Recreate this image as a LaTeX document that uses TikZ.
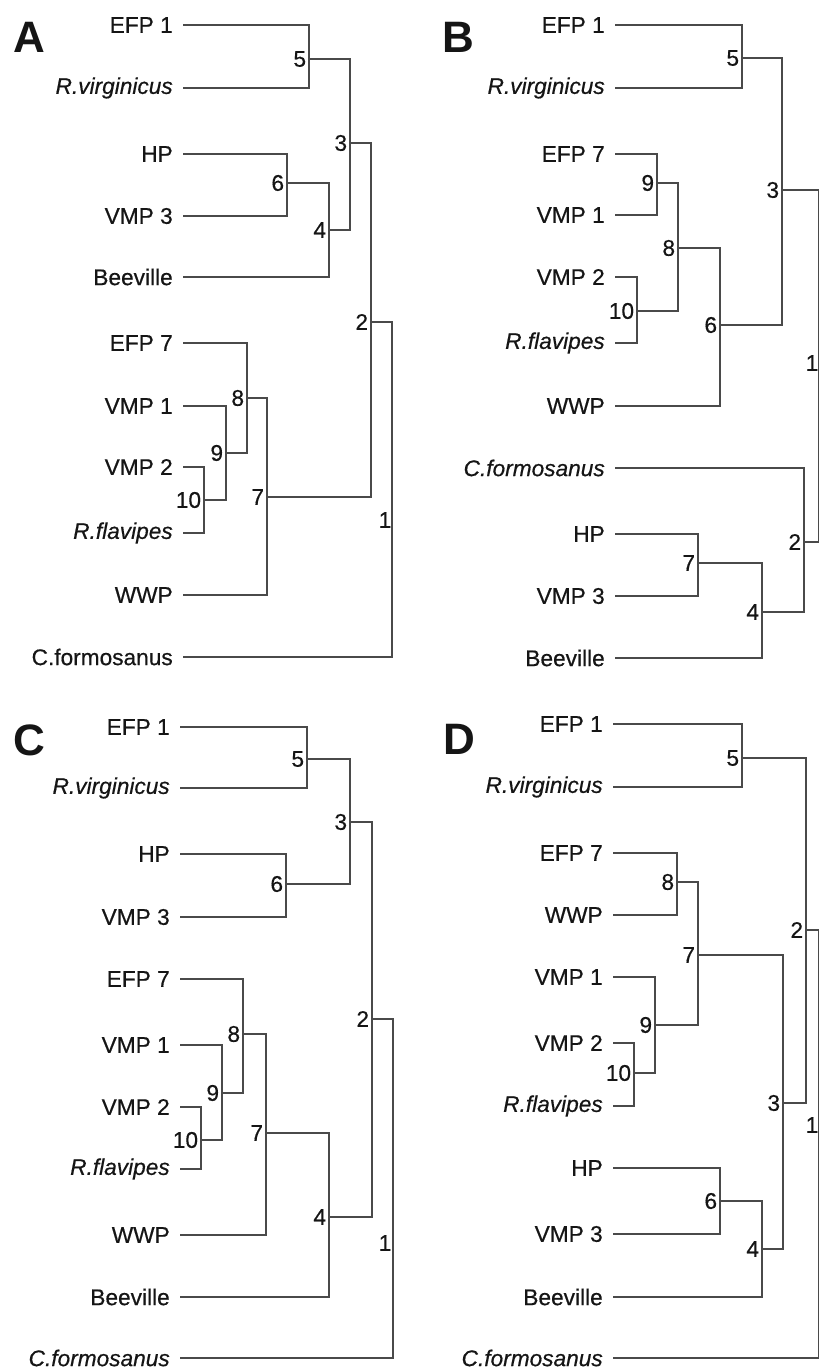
\documentclass[tikz,border=0pt]{standalone}
\usepackage{fontspec}
\setmainfont{Liberation Sans}[UprightFeatures={FakeBold=0.5}, ItalicFeatures={FakeBold=0.5}]
\usepackage{tikz}
\usetikzlibrary{calc}
\definecolor{ink}{HTML}{151515}
\definecolor{branchgray}{HTML}{4A4A4A}
\newcommand{\leaffont}{\fontsize{17}{19}\selectfont}
\tikzset{leaf/.style={anchor=east, inner xsep=7.5pt, inner ysep=1pt, text=ink, font=\leaffont}}
\tikzset{leafit/.style={leaf, font=\leaffont\itshape}}
\tikzset{num/.style={inner sep=2pt, text=ink, font=\leaffont}}
\tikzset{panel/.style={text=ink, font=\fontsize{33}{36}\selectfont\bfseries}}
\tikzset{branch/.style={draw=branchgray, line width=1.1pt}}

\begin{document}
\begin{tikzpicture}[x=0.75pt, y=-0.75pt]
\useasboundingbox (0,0) rectangle (819,1370);
\clip (0,0) rectangle (819,1370);

%panel A
\node (pA) at (29,37)[panel]{A};
\node (Aefp1) at (183,25)[leaf]{EFP 1};
\node (Arvir) at (183,88)[leafit]{R.virginicus};
\node (Ahp) at (183,154)[leaf]{HP};
\node (Avmp3) at (183,216)[leaf]{VMP 3};
\node (Abee) at (183,277)[leaf]{Beeville};
\node (Aefp7) at (183,343)[leaf]{EFP 7};
\node (Avmp1) at (183,406)[leaf]{VMP 1};
\node (Avmp2) at (183,467)[leaf]{VMP 2};
\node (Arfla) at (183,533)[leafit]{R.flavipes};
\node (Awwp) at (183,595)[leaf]{WWP};
\node (Acfor) at (183,657)[leaf]{C.formosanus};
\coordinate[label={[num]left:5}] (A5) at (309,59);
\coordinate[label={[num]left:6}] (A6) at (287,183);
\coordinate[label={[num]left:4}] (A4) at (329,230);
\coordinate[label={[num]left:3}] (A3) at (350,143);
\coordinate[label={[num]left:10}] (A10) at (204,500);
\coordinate[label={[num]left:9}] (A9) at (226,453);
\coordinate[label={[num]left:8}] (A8) at (247,398);
\coordinate[label={[num]left:7}] (A7) at (267,497);
\coordinate[label={[num]left:2}] (A2) at (371,322);
\coordinate (A1) at (392,489);
\node (A1lab) at (385,520)[num]{1};
\draw[branch] (Aefp1.east) -| (A5) |- (Arvir.east);
\draw[branch] (Ahp.east) -| (A6) |- (Avmp3.east);
\draw[branch] (A6) -| (A4) |- (Abee.east);
\draw[branch] (A5) -| (A3) |- (A4);
\draw[branch] (Avmp2.east) -| (A10) |- (Arfla.east);
\draw[branch] (Avmp1.east) -| (A9) |- (A10);
\draw[branch] (Aefp7.east) -| (A8) |- (A9);
\draw[branch] (A8) -| (A7) |- (Awwp.east);
\draw[branch] (A3) -| (A2) |- (A7);
\draw[branch] (A2) -| (A1) |- (Acfor.east);

%panel B
\node (pB) at (458,37)[panel]{B};
\node (Befp1) at (615,25)[leaf]{EFP 1};
\node (Brvir) at (615,88)[leafit]{R.virginicus};
\node (Befp7) at (615,154)[leaf]{EFP 7};
\node (Bvmp1) at (615,215)[leaf]{VMP 1};
\node (Bvmp2) at (615,277)[leaf]{VMP 2};
\node (Brfla) at (615,343)[leafit]{R.flavipes};
\node (Bwwp) at (615,406)[leaf]{WWP};
\node (Bcfor) at (615,468)[leafit]{C.formosanus};
\node (Bhp) at (615,534)[leaf]{HP};
\node (Bvmp3) at (615,596)[leaf]{VMP 3};
\node (Bbee) at (615,658)[leaf]{Beeville};
\coordinate[label={[num]left:5}] (B5) at (742,58);
\coordinate[label={[num]left:9}] (B9) at (657,183);
\coordinate[label={[num]left:10}] (B10) at (637,311);
\coordinate[label={[num]left:8}] (B8) at (678,248);
\coordinate[label={[num]left:6}] (B6) at (720,325);
\coordinate[label={[num]left:3}] (B3) at (782,190);
\coordinate[label={[num]left:7}] (B7) at (698,563);
\coordinate[label={[num]left:4}] (B4) at (762,612);
\coordinate[label={[num]left:2}] (B2) at (804,542);
\coordinate (B1) at (818.5,366);
\node (B1lab) at (812,363)[num]{1};
\draw[branch] (Befp1.east) -| (B5) |- (Brvir.east);
\draw[branch] (Befp7.east) -| (B9) |- (Bvmp1.east);
\draw[branch] (Bvmp2.east) -| (B10) |- (Brfla.east);
\draw[branch] (B9) -| (B8) |- (B10);
\draw[branch] (B8) -| (B6) |- (Bwwp.east);
\draw[branch] (B5) -| (B3) |- (B6);
\draw[branch] (Bhp.east) -| (B7) |- (Bvmp3.east);
\draw[branch] (B7) -| (B4) |- (Bbee.east);
\draw[branch] (Bcfor.east) -| (B2) |- (B4);
\draw[branch] (B3) -| (B1) |- (B2);

%panel C
\node (pC) at (29,740)[panel]{C};
\node (Cefp1) at (180,727)[leaf]{EFP 1};
\node (Crvir) at (180,788)[leafit]{R.virginicus};
\node (Chp) at (180,854)[leaf]{HP};
\node (Cvmp3) at (180,917)[leaf]{VMP 3};
\node (Cefp7) at (180,979)[leaf]{EFP 7};
\node (Cvmp1) at (180,1045)[leaf]{VMP 1};
\node (Cvmp2) at (180,1107)[leaf]{VMP 2};
\node (Crfla) at (180,1169)[leafit]{R.flavipes};
\node (Cwwp) at (180,1235)[leaf]{WWP};
\node (Cbee) at (180,1297)[leaf]{Beeville};
\node (Ccfor) at (180,1358)[leafit]{C.formosanus};
\coordinate[label={[num]left:5}] (C5) at (307,759);
\coordinate[label={[num]left:6}] (C6) at (286,884);
\coordinate[label={[num]left:3}] (C3) at (350,822);
\coordinate[label={[num]left:10}] (C10) at (201,1140);
\coordinate[label={[num]left:9}] (C9) at (222,1093);
\coordinate[label={[num]left:8}] (C8) at (243,1034);
\coordinate[label={[num]left:7}] (C7) at (266,1133);
\coordinate[label={[num]left:4}] (C4) at (329,1217);
\coordinate[label={[num]left:2}] (C2) at (372,1019);
\coordinate (C1) at (393,1188);
\node (C1lab) at (385,1243)[num]{1};
\draw[branch] (Cefp1.east) -| (C5) |- (Crvir.east);
\draw[branch] (Chp.east) -| (C6) |- (Cvmp3.east);
\draw[branch] (C5) -| (C3) |- (C6);
\draw[branch] (Cvmp2.east) -| (C10) |- (Crfla.east);
\draw[branch] (Cvmp1.east) -| (C9) |- (C10);
\draw[branch] (Cefp7.east) -| (C8) |- (C9);
\draw[branch] (C8) -| (C7) |- (Cwwp.east);
\draw[branch] (C7) -| (C4) |- (Cbee.east);
\draw[branch] (C3) -| (C2) |- (C4);
\draw[branch] (C2) -| (C1) |- (Ccfor.east);

%panel D
\node (pD) at (459,739)[panel]{D};
\node (Defp1) at (613,724)[leaf]{EFP 1};
\node (Drvir) at (613,787)[leafit]{R.virginicus};
\node (Defp7) at (613,853)[leaf]{EFP 7};
\node (Dwwp) at (613,915)[leaf]{WWP};
\node (Dvmp1) at (613,977)[leaf]{VMP 1};
\node (Dvmp2) at (613,1043)[leaf]{VMP 2};
\node (Drfla) at (613,1106)[leafit]{R.flavipes};
\node (Dhp) at (613,1168)[leaf]{HP};
\node (Dvmp3) at (613,1234)[leaf]{VMP 3};
\node (Dbee) at (613,1297)[leaf]{Beeville};
\node (Dcfor) at (613,1358)[leafit]{C.formosanus};
\coordinate[label={[num]left:5}] (D5) at (742,758);
\coordinate[label={[num]left:8}] (D8) at (677,882);
\coordinate[label={[num]left:10}] (D10) at (634,1073);
\coordinate[label={[num]left:9}] (D9) at (655,1025);
\coordinate[label={[num]left:7}] (D7) at (698,955);
\coordinate[label={[num]left:6}] (D6) at (720,1201);
\coordinate[label={[num]left:4}] (D4) at (762,1249);
\coordinate[label={[num]left:3}] (D3) at (783,1103);
\coordinate[label={[num]left:2}] (D2) at (806,930);
\coordinate (D1) at (818.5,1144);
\node (D1lab) at (812,1125)[num]{1};
\draw[branch] (Defp1.east) -| (D5) |- (Drvir.east);
\draw[branch] (Defp7.east) -| (D8) |- (Dwwp.east);
\draw[branch] (Dvmp2.east) -| (D10) |- (Drfla.east);
\draw[branch] (Dvmp1.east) -| (D9) |- (D10);
\draw[branch] (D8) -| (D7) |- (D9);
\draw[branch] (Dhp.east) -| (D6) |- (Dvmp3.east);
\draw[branch] (D6) -| (D4) |- (Dbee.east);
\draw[branch] (D7) -| (D3) |- (D4);
\draw[branch] (D5) -| (D2) |- (D3);
\draw[branch] (D2) -| (D1) |- (Dcfor.east);

\end{tikzpicture}
\end{document}
